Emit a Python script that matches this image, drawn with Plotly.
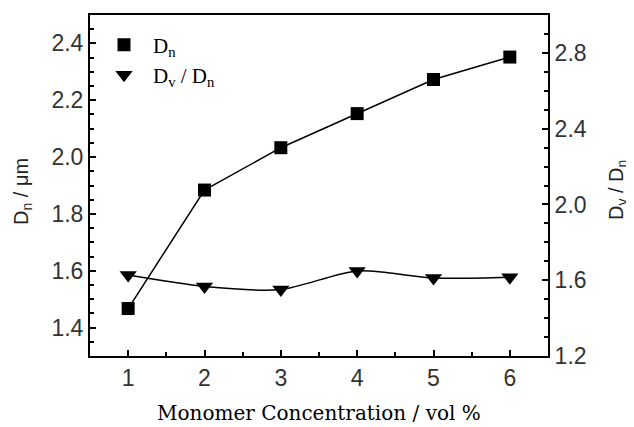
import plotly.graph_objects as go

concentration = [1, 2, 3, 4, 5, 6]
dn_values = [1.467, 1.884, 2.033, 2.153, 2.273, 2.352]
dvdn_values = [1.627, 1.567, 1.551, 1.649, 1.612, 1.616]

left_ticks = [1.4, 1.6, 1.8, 2.0, 2.2, 2.4]
right_ticks = [1.2, 1.6, 2.0, 2.4, 2.8]
x_ticks = [1, 2, 3, 4, 5, 6]

tick_font = dict(family="Liberation Sans, Arial", size=23, color="#333")
serif = "DejaVu Serif, Liberation Serif"
sans = "Liberation Sans, Arial"

OFF = 8  # default page body margin
W, H = 634, 427
L, T = 90 - OFF, 15 - OFF
pw, ph = 458, 341
R, B = W - L - pw, H - T - ph


def px(xs):
    return (xs - OFF - L) / pw


def py(ys):
    return (T + ph - (ys - OFF)) / ph


fig = go.Figure()
# lines (no legend)
fig.add_trace(go.Scatter(
    x=concentration, y=dn_values, mode="lines", showlegend=False,
    line=dict(color="black", width=1.5),
))
fig.add_trace(go.Scatter(
    x=concentration, y=dvdn_values, mode="lines", yaxis="y2", showlegend=False,
    line=dict(color="black", width=1.5, shape="spline", smoothing=0.8),
))
# markers (with legend)
fig.add_trace(go.Scatter(
    x=concentration, y=dn_values, name="D<sub>n</sub>", mode="markers",
    marker=dict(symbol="square", size=13, color="black"), legend="legend",
))
fig.add_trace(go.Scatter(
    x=concentration, y=dvdn_values, name="D<sub>v</sub> / D<sub>n</sub>",
    mode="markers", yaxis="y2", legend="legend2",
    marker=dict(symbol="triangle-down", size=15, color="black"),
))

axis_common = dict(
    ticks="inside", ticklen=6, tickwidth=1.5, tickcolor="black",
    showline=True, linecolor="black", linewidth=2,
    showgrid=False, zeroline=False, tickfont=tick_font, automargin=False,
)

legend_common = dict(
    xanchor="left", yanchor="middle",
    font=dict(family="Liberation Serif, Times New Roman", size=21, color="black"),
    bgcolor="rgba(0,0,0,0)", itemwidth=48,
)

fig.update_layout(
    width=W, height=H,
    margin=dict(l=L, r=R, t=T, b=B),
    plot_bgcolor="white", paper_bgcolor="white",
    showlegend=True,
    legend=dict(x=px(95), y=py(45), **legend_common),
    legend2=dict(x=px(95), y=py(75), **legend_common),
    xaxis=dict(
        range=[0.5, 6.5], tickvals=x_ticks, ticktext=[str(v) for v in x_ticks],
        minor=dict(dtick=0.5, tick0=0.5, ticks="inside", ticklen=4, tickcolor="black"),
        mirror=True, **axis_common,
    ),
    yaxis=dict(
        range=[1.3, 2.5], tickvals=left_ticks, ticktext=[f"{v:.1f}" for v in left_ticks],
        minor=dict(dtick=0.05, tick0=1.3, ticks="inside", ticklen=4, tickcolor="black"),
        **axis_common,
    ),
    yaxis2=dict(
        range=[1.2, 3.0], tickvals=right_ticks, ticktext=[f"{v:.1f}" for v in right_ticks],
        overlaying="y", side="right",
        minor=dict(dtick=0.1, tick0=1.2, ticks="inside", ticklen=4, tickcolor="black"),
        **axis_common,
    ),
    annotations=[
        dict(text="Monomer Concentration / vol %", xref="paper", yref="paper",
             x=px(319), y=py(413), xanchor="center", yanchor="middle", showarrow=False,
             font=dict(family=serif, size=20, color="black")),
        dict(text="D<sub>n</sub> / μm", xref="paper", yref="paper",
             x=px(22), y=py(192), xanchor="center", yanchor="middle",
             showarrow=False, textangle=-90,
             font=dict(family=sans, size=20, color="#222")),
        dict(text="D<sub>v</sub> / D<sub>n</sub>", xref="paper", yref="paper",
             x=px(617), y=py(190), xanchor="center", yanchor="middle",
             showarrow=False, textangle=-90,
             font=dict(family=sans, size=20, color="#222")),
    ],
)

fig.write_html("out.html")
